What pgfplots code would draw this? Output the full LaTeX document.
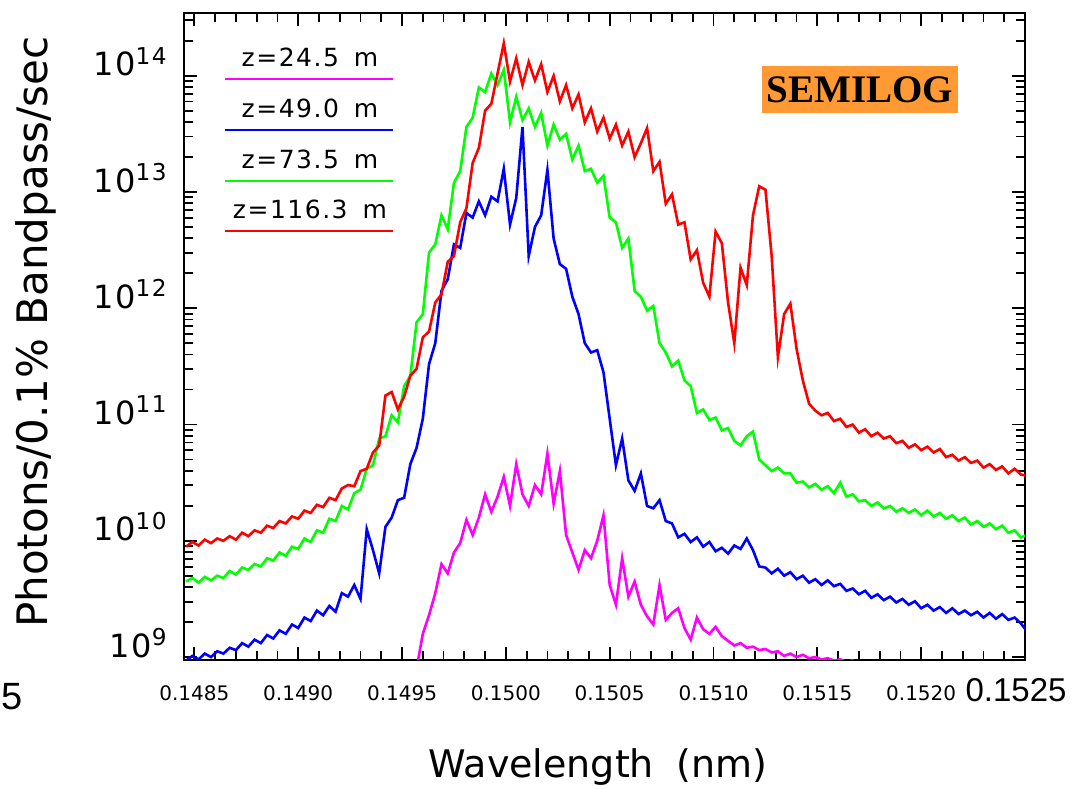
\documentclass[border=0pt]{standalone}
\usepackage{pgfplots}
\pgfplotsset{compat=1.18}
\usepackage{pgfplotstable}
\usepackage{fontspec}
\setmainfont{DejaVu Sans}
\newfontfamily\timesbf{Liberation Serif}
\newfontfamily\arial{Liberation Sans}
\newfontfamily\hershey{DejaVu Sans}[LetterSpace=6]
\definecolor{semi}{RGB}{255,153,51}
\definecolor{cmag}{RGB}{255,0,255}
\definecolor{cblue}{RGB}{0,0,255}
\definecolor{cgreen}{RGB}{0,255,0}
\definecolor{cred}{RGB}{255,0,0}
\newcommand\ep[1]{\raisebox{5.8pt}{\fontsize{11.6}{12}\selectfont #1}}

% columns: wavelength (nm), log10 of photons for z=116.3 m (r), 73.5 m (g), 49.0 m (b)
\pgfplotstableread{
x r g b
0.14846 9.95 9.65 8.97
0.14849 9.99 9.68 9.01
0.14852 9.96 9.64 8.98
0.14855 10.01 9.69 9.03
0.14858 9.98 9.66 9.00
0.14861 10.02 9.70 9.05
0.14864 10.00 9.68 9.03
0.14867 10.04 9.74 9.08
0.14870 10.01 9.71 9.06
0.14873 10.07 9.77 9.12
0.14876 10.04 9.75 9.09
0.14879 10.09 9.80 9.15
0.14882 10.07 9.78 9.12
0.14885 10.13 9.85 9.19
0.14888 10.11 9.83 9.16
0.14891 10.17 9.90 9.23
0.14894 10.15 9.87 9.20
0.14897 10.21 9.95 9.28
0.14900 10.19 9.93 9.25
0.14903 10.26 10.02 9.34
0.14906 10.24 9.99 9.31
0.14909 10.31 10.09 9.40
0.14912 10.29 10.07 9.36
0.14915 10.37 10.19 9.44
0.14918 10.35 10.17 9.39
0.14921 10.45 10.30 9.55
0.14924 10.48 10.27 9.52
0.14927 10.47 10.41 9.62
0.14930 10.60 10.44 9.50
0.14933 10.62 10.62 10.10
0.14936 10.76 10.65 9.92
0.14939 10.82 10.88 9.72
0.14942 11.25 10.90 10.12
0.14945 11.28 11.08 10.20
0.14948 11.13 11.02 10.35
0.14951 11.24 11.33 10.37
0.14954 11.42 11.42 10.66
0.14957 11.48 11.88 10.80
0.14960 11.75 11.95 11.05
0.14963 11.80 12.48 11.52
0.14966 12.05 12.55 11.70
0.14969 12.12 12.80 12.15
0.14972 12.40 12.68 12.25
0.14975 12.45 13.08 12.55
0.14978 12.74 13.18 12.52
0.14981 12.86 13.56 12.82
0.14984 13.25 13.64 12.78
0.14987 13.38 13.90 12.92
0.14990 13.70 13.86 12.80
0.14993 13.76 14.02 12.96
0.14996 14.02 13.92 12.92
0.14999 14.28 14.05 13.20
0.15002 13.95 13.60 12.72
0.15005 14.15 13.82 12.95
0.15008 13.92 13.62 13.56
0.15011 14.12 13.72 12.45
0.15014 13.96 13.56 12.70
0.15017 14.10 13.68 12.80
0.15020 13.86 13.40 13.19
0.15023 14.00 13.58 12.60
0.15026 13.78 13.45 12.38
0.15029 13.92 13.50 12.34
0.15032 13.72 13.28 12.10
0.15035 13.84 13.40 11.95
0.15038 13.60 13.18 11.70
0.15041 13.72 13.20 11.62
0.15044 13.52 13.08 11.64
0.15047 13.64 13.14 11.45
0.15050 13.46 12.78 11.05
0.15053 13.58 12.74 10.65
0.15056 13.40 12.52 10.88
0.15059 13.52 12.60 10.52
0.15062 13.30 12.15 10.43
0.15065 13.42 12.10 10.58
0.15068 13.55 11.98 10.30
0.15071 13.18 12.02 10.28
0.15074 13.26 11.70 10.35
0.15077 12.90 11.62 10.17
0.15080 12.98 11.50 10.15
0.15083 12.72 11.55 10.03
0.15086 12.74 11.38 10.06
0.15089 12.42 11.33 9.99
0.15092 12.50 11.10 10.03
0.15095 12.22 11.13 9.95
0.15098 12.10 11.04 9.99
0.15101 12.66 11.06 9.91
0.15104 12.56 10.95 9.94
0.15107 12.05 10.97 9.89
0.15110 11.70 10.86 9.96
0.15113 12.35 10.82 9.93
0.15116 12.20 10.90 10.02
0.15119 12.80 10.94 9.92
0.15122 13.05 10.70 9.78
0.15125 13.02 10.65 9.77
0.15128 12.45 10.60 9.72
0.15131 11.58 10.63 9.76
0.15134 11.95 10.58 9.70
0.15137 12.04 10.58 9.73
0.15140 11.65 10.50 9.67
0.15143 11.38 10.51 9.70
0.15146 11.18 10.46 9.64
0.15149 11.12 10.49 9.67
0.15152 11.08 10.44 9.62
0.15155 11.10 10.47 9.66
0.15158 11.03 10.41 9.61
0.15161 11.05 10.50 9.63
0.15164 10.98 10.38 9.57
0.15167 11.00 10.40 9.59
0.15170 10.93 10.34 9.54
0.15173 10.96 10.35 9.57
0.15176 10.90 10.30 9.51
0.15179 10.93 10.33 9.54
0.15182 10.88 10.28 9.49
0.15185 10.90 10.30 9.52
0.15188 10.84 10.25 9.47
0.15191 10.86 10.28 9.50
0.15194 10.80 10.24 9.45
0.15197 10.83 10.27 9.48
0.15200 10.78 10.22 9.42
0.15203 10.81 10.26 9.45
0.15206 10.76 10.21 9.40
0.15209 10.79 10.24 9.43
0.15212 10.72 10.19 9.38
0.15215 10.74 10.22 9.42
0.15218 10.69 10.17 9.37
0.15221 10.72 10.20 9.40
0.15224 10.67 10.14 9.36
0.15227 10.69 10.17 9.39
0.15230 10.63 10.12 9.34
0.15233 10.66 10.15 9.38
0.15236 10.61 10.10 9.33
0.15239 10.64 10.13 9.37
0.15242 10.58 10.07 9.32
0.15245 10.62 10.09 9.34
0.15248 10.57 10.03 9.29
0.15251 10.56 10.05 9.22
}\spectra

% z=24.5 m : wavelength (nm), log10 of photons
\pgfplotstableread{
x m
0.14957 8.90
0.14960 9.20
0.14963 9.36
0.14966 9.55
0.14969 9.80
0.14972 9.72
0.14975 9.90
0.14978 9.98
0.14981 10.18
0.14984 10.05
0.14987 10.20
0.14990 10.40
0.14993 10.25
0.14996 10.38
0.14999 10.55
0.15002 10.30
0.15005 10.66
0.15008 10.40
0.15011 10.30
0.15014 10.48
0.15017 10.40
0.15020 10.75
0.15023 10.32
0.15026 10.60
0.15029 10.05
0.15032 9.90
0.15035 9.75
0.15038 9.92
0.15041 9.85
0.15044 10.00
0.15047 10.22
0.15050 9.62
0.15053 9.45
0.15056 9.85
0.15059 9.52
0.15062 9.65
0.15065 9.45
0.15068 9.35
0.15071 9.28
0.15074 9.62
0.15077 9.32
0.15080 9.38
0.15083 9.42
0.15086 9.25
0.15089 9.15
0.15092 9.34
0.15095 9.24
0.15098 9.20
0.15101 9.26
0.15104 9.18
0.15107 9.14
0.15110 9.10
0.15113 9.12
0.15116 9.08
0.15119 9.09
0.15122 9.06
0.15125 9.07
0.15128 9.04
0.15131 9.05
0.15134 9.01
0.15137 9.03
0.15140 9.00
0.15143 9.02
0.15146 8.99
0.15149 9.00
0.15152 8.98
0.15155 8.99
0.15158 8.97
0.15161 8.98
0.15164 8.96
0.15167 8.97
0.15170 8.90
}\magtab

\begin{document}
\begin{tikzpicture}
\useasboundingbox (0,0) rectangle (537pt,394pt);
\begin{axis}[
  at={(92pt,64pt)}, anchor=south west,
  width=420.5pt, height=323.5pt, scale only axis,
  xmin=0.14845, xmax=0.1525,
  ymode=log, ymin=9.44e8, ymax=3.47e14,
  xtick={0.1485,0.149,0.1495,0.15,0.1505,0.151,0.1515,0.152,0.1525},
  xticklabels={0.1485,0.1490,0.1495,0.1500,0.1505,0.1510,0.1515,0.1520,{}},
  minor x tick num=4,
  ytick={1e9,1e10,1e11,1e12,1e13,1e14},
  yticklabels={10\ep{9},10\ep{10},10\ep{11},10\ep{12},10\ep{13},10\ep{14}},
  minor ytick={2e9,3e9,4e9,5e9,6e9,7e9,8e9,9e9,
               2e10,3e10,4e10,5e10,6e10,7e10,8e10,9e10,
               2e11,3e11,4e11,5e11,6e11,7e11,8e11,9e11,
               2e12,3e12,4e12,5e12,6e12,7e12,8e12,9e12,
               2e13,3e13,4e13,5e13,6e13,7e13,8e13,9e13,
               2e14,3e14},
  xticklabel style={font=\fontsize{10}{12}\selectfont, inner sep=0pt, yshift=-12.5pt},
  yticklabel style={font=\hershey\fontsize{16}{18}\selectfont, anchor=base east, inner sep=0pt, xshift=-8.5pt},
  tick align=inside,
  major tick length=6.5pt, minor tick length=4.5pt,
  every tick/.style={black, line width=0.9pt},
  every minor tick/.style={black, line width=0.9pt},
  axis line style={black, line width=0.9pt},
  xlabel={Wavelength\hspace{0.6em}(nm)},
  xlabel style={at={(axis description cs:0.4923,-0.1654)}, anchor=center, font=\fontsize{19}{22}\selectfont},
  ylabel={Photons/0.1\% Bandpass/sec},
  ylabel style={at={(axis description cs:-0.176,0.507)}, anchor=center, font=\fontsize{21}{24}\selectfont},
  every axis plot/.append style={line width=1.3pt},
]
\addplot[cmag] table[x=x, y expr={10^(\thisrow{m})}] {\magtab};
\addplot[cblue] table[x=x, y expr={10^(\thisrow{b})}] {\spectra};
\addplot[cgreen] table[x=x, y expr={10^(\thisrow{g})}] {\spectra};
\addplot[cred] table[x=x, y expr={10^(\thisrow{r})}] {\spectra};

% legend (text above line, as in the original)
\draw[cmag, line width=1.1pt] (axis description cs:0.0488,0.898) -- (axis description cs:0.2485,0.898);
\draw[cblue, line width=1.1pt] (axis description cs:0.0488,0.819) -- (axis description cs:0.2485,0.819);
\draw[cgreen, line width=1.1pt] (axis description cs:0.0488,0.740) -- (axis description cs:0.2485,0.740);
\draw[cred, line width=1.1pt] (axis description cs:0.0488,0.663) -- (axis description cs:0.2485,0.663);
\begin{scope}[every node/.style={font=\hershey\fontsize{12.5}{14}\selectfont, inner sep=0pt}]
\node at (axis description cs:0.1498,0.932) {z=24.5\hspace{0.6em}m};
\node at (axis description cs:0.1498,0.853) {z=49.0\hspace{0.6em}m};
\node at (axis description cs:0.1498,0.774) {z=73.5\hspace{0.6em}m};
\node at (axis description cs:0.1498,0.697) {z=116.3\hspace{0.6em}m};
\end{scope}
\node[fill=semi, minimum width=98pt, minimum height=23.5pt, inner sep=0pt,
      font=\timesbf\bfseries\fontsize{19.5}{20}\selectfont]
  at (axis description cs:0.8038,0.8818) {SEMILOG};
\end{axis}
\node[font=\arial\fontsize{19}{20}\selectfont, inner sep=0pt] at (5.8pt,45.5pt) {5};
\node[font=\arial\fontsize{16.5}{18}\selectfont, inner sep=0pt] at (508pt,49pt) {0.1525};
\end{tikzpicture}
\end{document}
